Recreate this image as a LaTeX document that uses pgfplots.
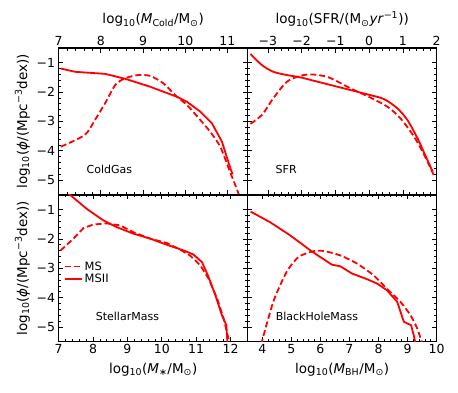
\documentclass[border=0pt]{standalone}
\usepackage{fontspec}
\setmainfont{DejaVu Sans}
\usepackage{pgfplots}
\pgfplotsset{compat=1.18}

\pgfplotsset{
  panel/.style={
    scale only axis, width=189pt, height=146.85pt,
    ymin=-5.5, ymax=-0.5, ytick={-5,-4,-3,-2,-1},
    tick align=inside, minor x tick num=4, minor y tick num=4,
    major tick length=4.5pt, minor tick length=2.5pt,
    axis line style={line width=1.4pt},
    every tick/.style={black, line width=0.8pt},
    tick label style={font=\fontsize{12.5}{14}\selectfont},
    label style={font=\fontsize{13.5}{15}\selectfont},
    xticklabel style={yshift=1pt},
    /pgf/number format/assume math mode=true,
  },
  ms/.style={red, line width=1.8pt, dash pattern=on 6pt off 3pt},
  msii/.style={red, line width=1.8pt},
}
\tikzset{tag/.style={font=\fontsize{11}{13}\selectfont, anchor=center}}

\begin{document}
\begin{tikzpicture}
\useasboundingbox (0,0) rectangle (458pt,392pt);

% ColdGas
\begin{axis}[panel, at={(58.7pt,197.15pt)}, anchor=south west,
  xmin=7, xmax=11.48, xtick={7,8,9,10,11},
  xticklabel pos=upper, xticklabel style={yshift=-2pt},
  xlabel style={yshift=2.5pt},
  yticklabels={−5,−4,−3,−2,−1},
  xlabel={log\textsubscript{10}(\textit{M}\textsubscript{Cold}/M\textsubscript{⊙})},
  ylabel={log\textsubscript{10}(\textit{ϕ}/(Mpc\textsuperscript{−3}dex))}]
\addplot[ms, smooth, tension=0.4] coordinates {(7.05,-3.86) (7.62,-3.46) (7.86,-2.95) (8.1,-2.38) (8.34,-1.76) (8.57,-1.53) (8.89,-1.42) (9.17,-1.45) (9.48,-1.7) (9.76,-2.1) (10.04,-2.44) (10.32,-2.89) (10.59,-3.35) (10.83,-3.86) (11.03,-4.6) (11.23,-5.33) (11.28,-5.55)};
\addplot[msii] coordinates {(7.05,-1.2) (7.39,-1.31) (8.1,-1.38) (8.58,-1.55) (9.17,-1.82) (9.8,-2.16) (10.04,-2.33) (10.36,-2.67) (10.63,-3.06) (10.87,-3.69) (11.03,-4.42) (11.12,-4.8)};
\node[tag] at (axis cs:8.2,-4.63) {ColdGas};
\end{axis}

% SFR
\begin{axis}[panel, at={(247.7pt,197.15pt)}, anchor=south west,
  xmin=-3.6, xmax=2, xtick={-3,-2,-1,0,1,2},
  xticklabels={−3,−2,−1,0,1,2},
  xticklabel pos=upper, xticklabel style={yshift=-2pt}, yticklabels={},
  xlabel style={yshift=2.5pt},
  xlabel={log\textsubscript{10}(SFR/(M\textsubscript{⊙}\textit{yr}\textsuperscript{−1}))}]
\addplot[ms, smooth, tension=0.5] coordinates {(-3.52,-3.08) (-3.18,-2.78) (-2.84,-2.21) (-2.44,-1.65) (-2.04,-1.45) (-1.7,-1.4) (-1.2,-1.5) (-0.56,-1.87) (0.02,-2.18) (0.54,-2.5) (0.93,-2.9) (1.33,-3.52) (1.63,-4.14) (1.91,-4.82)};
\addplot[msii, smooth, tension=0.5] coordinates {(-3.52,-0.7) (-3.18,-1.08) (-2.84,-1.31) (-2.44,-1.42) (-2.04,-1.5) (-1.35,-1.7) (-0.56,-1.93) (0.02,-2.1) (0.44,-2.24) (0.83,-2.55) (1.13,-2.95) (1.43,-3.57) (1.68,-4.2) (1.88,-4.71)};
\node[tag] at (axis cs:-2.46,-4.63) {SFR};
\end{axis}

% StellarMass
\begin{axis}[panel, at={(58.7pt,50.3pt)}, anchor=south west,
  xmin=7, xmax=12.5, xtick={7,8,9,10,11,12},
  xlabel style={yshift=-2.5pt},
  yticklabels={−5,−4,−3,−2,−1},
  xlabel={log\textsubscript{10}(\textit{M}\textsubscript{∗}/M\textsubscript{⊙})},
  ylabel={log\textsubscript{10}(\textit{ϕ}/(Mpc\textsuperscript{−3}dex))},
  legend style={draw=none, fill=none, at={(0.01,0.575)}, anchor=north west,
    font=\fontsize{11.5}{13}\selectfont, row sep=-1.5pt},
  legend cell align=left]
\addplot[ms] coordinates {(7.05,-2.4) (7.43,-1.99) (7.72,-1.63) (8.01,-1.51) (8.4,-1.47) (8.79,-1.54) (9.17,-1.77) (9.66,-1.99) (10.15,-2.14) (10.54,-2.37) (10.83,-2.57) (11.12,-2.9) (11.36,-3.35) (11.61,-4.03) (11.8,-4.71) (11.94,-5.39) (11.96,-5.55)};
\addlegendentry{MS}
\addplot[msii] coordinates {(7.28,-0.45) (7.82,-0.98) (8.3,-1.37) (8.69,-1.6) (9.17,-1.82) (9.66,-1.99) (10.15,-2.2) (10.63,-2.39) (10.92,-2.53) (11.17,-2.79) (11.36,-3.29) (11.56,-3.92) (11.75,-4.6) (11.88,-4.94) (11.91,-5.55)};
\addlegendentry{MSII}
\node[tag] at (axis cs:9.0,-4.65) {StellarMass};
\end{axis}

% BlackHoleMass
\begin{axis}[panel, at={(247.7pt,50.3pt)}, anchor=south west,
  xmin=3.5, xmax=10, xtick={4,5,6,7,8,9,10}, yticklabels={},
  xlabel style={yshift=-2.5pt},
  xlabel={log\textsubscript{10}(\textit{M}\textsubscript{BH}/M\textsubscript{⊙})}]
\addplot[ms, smooth, tension=0.4] coordinates {(3.96,-5.6) (4.38,-4.14) (4.84,-3.12) (5.24,-2.62) (5.71,-2.43) (6.11,-2.41) (6.68,-2.56) (7.26,-2.84) (7.83,-3.24) (8.29,-3.7) (8.75,-4.14) (9.1,-4.6) (9.33,-5.05) (9.5,-5.55)};
\addplot[msii] coordinates {(3.6,-1.07) (4.27,-1.43) (4.96,-1.88) (5.71,-2.43) (6.4,-2.88) (6.68,-2.93) (7.09,-3.18) (7.6,-3.37) (7.95,-3.52) (8.29,-3.75) (8.64,-4.14) (8.87,-4.82) (9.12,-4.94) (9.21,-5.28) (9.27,-5.55)};
\node[tag] at (axis cs:5.88,-4.65) {BlackHoleMass};
\end{axis}
\end{tikzpicture}
\end{document}
